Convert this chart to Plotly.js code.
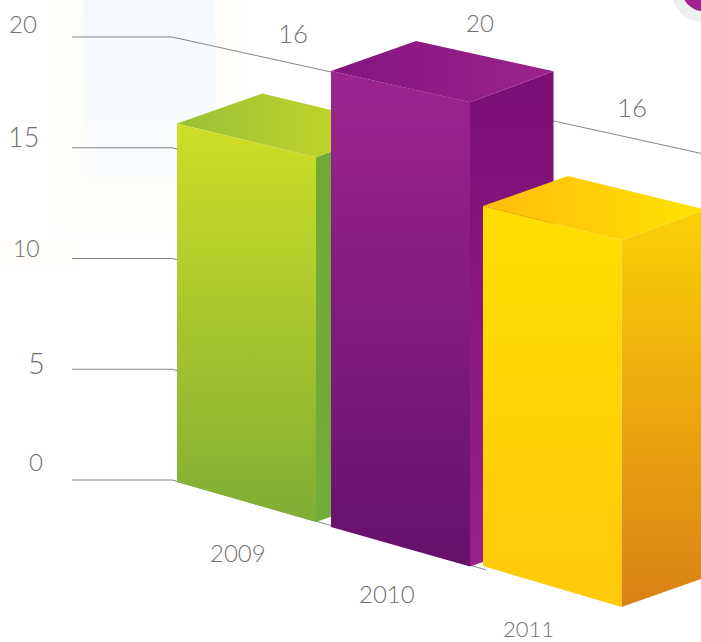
<!DOCTYPE html>
<html>
<head>
<meta charset="utf-8">
<script src="https://cdn.plot.ly/plotly-3.0.1.min.js"></script>
<style>html,body{margin:0;padding:0;background:#fff;overflow:hidden}#chart{width:701px;height:642px}</style>
</head>
<body>
<div id="chart"></div>
<script>
// Chart data
const years = ['2009', '2010', '2011'];
const values = [16, 20, 16];
const axisTicks = [0, 5, 10, 15, 20];
const axisTickLabels = ['0', '5', '10', '15', '20'];

// Scene geometry for the oblique 3D projection, in screen units
const W = 701, H = 642;
const unit = 22.15;           // screen units per axis value
const zeroLine = 480;         // screen row of axis value 0
const toAxis = row => (zeroLine - row) / unit;

const barLeft = [177, 331, 483];
const barBase = [482, 527, 566];
const barUnit = [22.4, 22.8, 22.5];   // nearer bars read slightly taller
const faceWidth = [139, 139, 138.5], faceDrop = [40, 39.5, 41], nearGrow = 1.018;
const depthX = 85, depthY = 31, farEdgeShift = 1.5;

const barColors = [
  {front: ['#cfde26', '#7fae35'], top: ['#9abf36', '#cfdd27'], side: ['#6fa937', '#73ac37']},
  {front: ['#9c258f', '#66116b'], top: ['#83147f', '#9a258b'], side: ['#7a0f76', '#96218a']},
  {front: ['#ffde00', '#ffc90a'], top: ['#ffbd0c', '#ffe200'], side: ['#fcd006', '#da8116']}
];

// Filled polygon through the chart's axes, with a linear gradient
function face(pts, colors, dir) {
  const xs = pts.map(p => p[0]).concat(pts[0][0]);
  const ys = pts.map(p => toAxis(p[1])).concat(toAxis(pts[0][1]));
  const horizontal = dir === 'horizontal';
  const scale = horizontal ? [[0, colors[0]], [1, colors[1]]] : [[0, colors[1]], [1, colors[0]]];
  const span = horizontal ? xs : ys;
  return {
    type: 'scatter', mode: 'lines', x: xs, y: ys, fill: 'toself',
    line: {width: 0}, hoverinfo: 'skip', showlegend: false,
    fillgradient: {type: dir, colorscale: scale, start: Math.min(...span), stop: Math.max(...span)}
  };
}

const traces = [];

// Pale blue backdrop panel, fading downward
traces.push(face([[84, 0], [215, 0], [215, 178], [84, 178]], ['#f5f9fd', '#fbfdff'], 'vertical'));

// Back-wall grid lines: flat run beside the axis, then receding to the right.
// Only the top line emerges past the last bar; the others stop behind it.
const bendX = 172, startX = 72, hiddenEnd = 560, zeroEnd = 486;
axisTicks.forEach(t => {
  const slope = 0.286 - (0.066 * t) / 20;
  const endX = t === 20 ? W : (t === 0 ? zeroEnd : hiddenEnd);
  const endRow = zeroLine - t * unit + slope * (endX - bendX);
  traces.push({
    type: 'scatter', mode: 'lines',
    x: [startX, bendX, endX], y: [t, t, toAxis(endRow)],
    line: {color: '#858585', width: 1}, hoverinfo: 'skip', showlegend: false
  });
});

// Bars, back to front: side, top, then front face
values.forEach((v, i) => {
  const xl = barLeft[i], xr = xl + faceWidth[i];
  const bl = barBase[i], br = bl + faceDrop[i];
  const tl = bl - v * barUnit[i];
  const tr = br - v * barUnit[i] * nearGrow;
  const farX = xr + depthX - farEdgeShift;
  const c = barColors[i];
  traces.push(face([[xr, tr], [farX, tr - depthY], [farX, br - depthY * 0.95], [xr, br]], c.side, 'vertical'));
  traces.push(face([[xl, tl], [xl + depthX, tl - depthY + 1], [farX, tr - depthY], [xr, tr]], c.top, 'horizontal'));
  traces.push(face([[xl, tl], [xr, tr], [xr, br], [xl, bl]], c.front, 'vertical'));
});

// Text labels
const textColor = '#707070';
const label = (text, x, row, size) => ({
  text, x, y: toAxis(row), xref: 'x', yref: 'y', showarrow: false,
  xanchor: 'center', yanchor: 'middle',
  font: {family: 'Lato, sans-serif', size, color: textColor, weight: 300}
});
const tickPlace = [[36, 461, 24], [36, 362, 29], [26, 248, 23], [23, 136, 27], [23, 23, 24]];
const valuePlace = [[293, 33, 26], [480, 22, 24], [632, 107, 26]];
const yearPlace = [[238, 552, 24], [387, 593, 24], [528, 628, 22]];
const annotations = [
  ...axisTickLabels.map((s, i) => label(s, tickPlace[i][0], tickPlace[i][1], tickPlace[i][2])),
  ...values.map((v, i) => label(String(v), valuePlace[i][0], valuePlace[i][1], valuePlace[i][2])),
  ...years.map((y, i) => label(y, yearPlace[i][0], yearPlace[i][1], yearPlace[i][2]))
];

// Soft cream halo and the badge clipped by the top-right corner
const panel = (x0, x1, r0, r1, fill) => ({
  type: 'rect', layer: 'below', xref: 'x', yref: 'y',
  x0, x1, y0: toAxis(r0), y1: toAxis(r1), fillcolor: fill, line: {width: 0}
});
const disc = (cx, cy, r, fill) => ({
  type: 'circle', layer: 'above', xref: 'x', yref: 'y',
  x0: cx - r, x1: cx + r, y0: toAxis(cy + r), y1: toAxis(cy - r), fillcolor: fill, line: {width: 0}
});
const shapes = [
  panel(50, 245, 0, 240, '#fffefc'),
  panel(60, 235, 0, 225, '#fffdfa'),
  panel(0, 80, 240, 268, '#fffefa'),
  disc(703, -10, 32, '#edf0f1'),
  disc(703, -10, 21, '#a3218f')
];

const hiddenAxis = {visible: false, fixedrange: true};
const layout = {
  width: W, height: H,
  margin: {l: 0, r: 0, t: 0, b: 0},
  paper_bgcolor: '#ffffff', plot_bgcolor: '#ffffff',
  showlegend: false,
  xaxis: {...hiddenAxis, range: [0, W]},
  yaxis: {...hiddenAxis, range: [toAxis(H), toAxis(0)]},
  annotations, shapes
};
Plotly.newPlot('chart', traces, layout, {displayModeBar: false, staticPlot: true});
</script>
</body>
</html>
